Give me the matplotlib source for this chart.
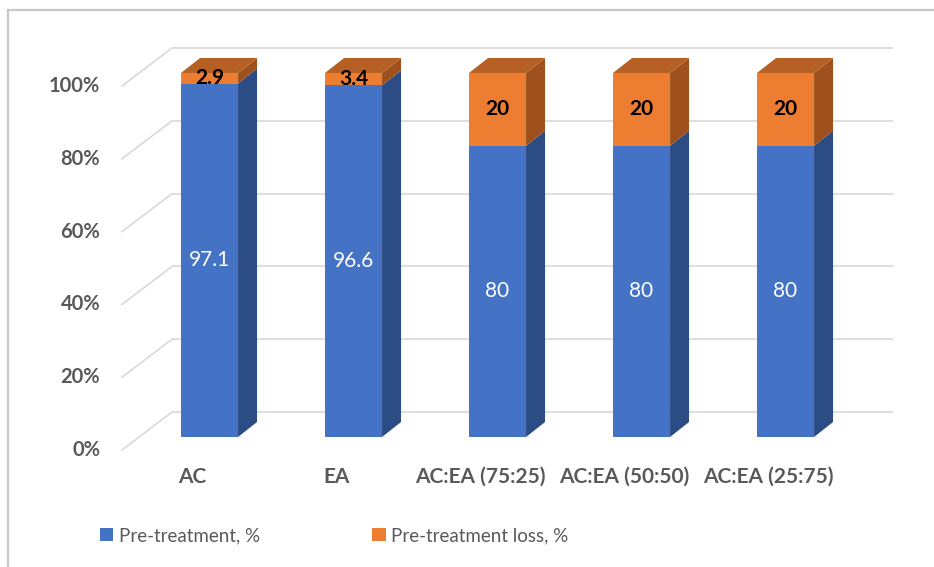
import matplotlib
matplotlib.use("Agg")
import matplotlib.pyplot as plt
from matplotlib.patches import Polygon, Rectangle, Patch
from matplotlib.lines import Line2D

plt.rcParams["font.family"] = ["Lato", "DejaVu Sans"]

# === Dados ===
categories = ["AC", "EA", "AC:EA (75:25)", "AC:EA (50:50)", "AC:EA (25:75)"]
pretreatment = [97.1, 96.6, 80, 80, 80]
loss = [2.9, 3.4, 20, 20, 20]
ticks = [0, 20, 40, 60, 80, 100]
series_names = ["Pre-treatment, %", "Pre-treatment loss, %"]

# === Cores (estilo Excel 3D) ===
blue_front, blue_side = "#4472C4", "#2C4C86"
orange_front, orange_side, orange_top = "#ED7D31", "#9E511C", "#B65F24"
grid_color = "#D9D9D9"
text_gray = "#595959"

# === Geometria da projeção oblíqua (unidades de dados) ===
bar_w = 0.396
depth_dx, depth_dy = 0.132, 4.12          # profundidade da barra
front_dx, front_dy = -0.118, -3.57        # plano frontal (parede/rótulos)
back_dx, back_dy = 0.229, 6.87            # plano de fundo (grade)
grid_right = 4.747

fig = plt.figure(figsize=(9.34, 5.67), dpi=100)
ax = fig.add_axes([0, 0, 1, 1])
ax.set_xlim(-1.455, 5.031)
ax.set_ylim(-35.71, 120.05)
ax.axis("off")

# === Grade no fundo e na parede esquerda ===
for t in ticks:
    ax.plot([back_dx - 0.489, grid_right], [t + back_dy, t + back_dy],
            color=grid_color, lw=1.2, zorder=1, solid_capstyle="butt")
    ax.plot([front_dx - 0.49, back_dx - 0.489], [t + front_dy, t + back_dy],
            color=grid_color, lw=1.2, zorder=1)
    ax.text(-0.76, t + front_dy, f"{t}%", ha="right", va="center",
            fontsize=14.5, fontweight="bold", color=text_gray)


def draw_block(xc, y0, y1, front, side, top=None):
    xl, xr = xc - bar_w / 2, xc + bar_w / 2
    ax.add_patch(Rectangle((xl, y0), bar_w, y1 - y0, facecolor=front,
                           edgecolor="none", zorder=3))
    ax.add_patch(Polygon([(xr, y0), (xr + depth_dx, y0 + depth_dy),
                          (xr + depth_dx, y1 + depth_dy), (xr, y1)],
                         closed=True, facecolor=side, edgecolor="none", zorder=3))
    if top is not None:
        ax.add_patch(Polygon([(xl, y1), (xr, y1), (xr + depth_dx, y1 + depth_dy),
                              (xl + depth_dx, y1 + depth_dy)],
                             closed=True, facecolor=top, edgecolor="none", zorder=3))


# === Barras empilhadas 3D ===
for i, (cat, p, l) in enumerate(zip(categories, pretreatment, loss)):
    draw_block(i, 0, p, blue_front, blue_side)
    draw_block(i, p, p + l, orange_front, orange_side, orange_top)
    ax.text(i, p / 2, f"{p:g}", ha="center", va="center", fontsize=15,
            color="white", zorder=4)
    ax.text(i, p + l / 2, f"{l:g}", ha="center", va="center", fontsize=15,
            fontweight="bold", color="black", zorder=4)
    ax.text(i + front_dx, -11.0, cat, ha="center", va="center", fontsize=15,
            fontweight="bold", color=text_gray)

# === Legenda ===
handles = [Patch(facecolor=blue_front, edgecolor="none"),
           Patch(facecolor=orange_front, edgecolor="none")]
ax.legend(handles, series_names, loc="center left",
          bbox_to_anchor=(0.089, 0.055), ncol=2, frameon=False,
          fontsize=13.5, labelcolor=text_gray, handlelength=0.7,
          handleheight=0.7, handletextpad=0.3, columnspacing=6.0)

# === Moldura (topo e esquerda) ===
fig.add_artist(Line2D([0.009, 1.0], [0.982, 0.982], transform=fig.transFigure,
                      color="#C8C8C8", lw=1.6))
fig.add_artist(Line2D([0.009, 0.009], [0.0, 0.982], transform=fig.transFigure,
                      color="#C8C8C8", lw=1.6))

fig.savefig("out.png", dpi=100)
